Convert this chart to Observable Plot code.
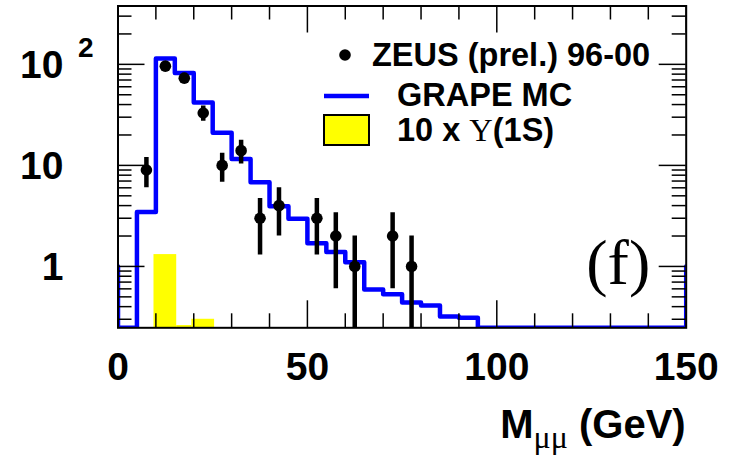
<!DOCTYPE html>
<html>
<head>
<meta charset="utf-8">
<script src="https://cdn.jsdelivr.net/npm/d3@7"></script>
<script src="https://cdn.jsdelivr.net/npm/@observablehq/plot@0.6"></script>
<style>
  html, body { margin: 0; padding: 0; background: #fff; }
  #chart svg { display: block; }
</style>
</head>
<body>
<div id="chart"></div>
<script>
// ZEUS (prel.) 96-00 data: dimuon mass bin centres (GeV), event counts, errors
const dataMass   = [7.5, 12.5, 17.5, 22.5, 27.5, 32.5, 37.5, 42.5, 52.5, 57.5, 62.5, 72.5, 77.5];
const dataCounts = [9, 96, 73, 33, 10, 14, 3, 4, 3, 2, 1, 2, 1];
const dataErrors = [3, 9.8, 8.5, 5.7, 3.2, 3.7, 1.7, 2, 1.7, 1.4, 1, 1.4, 1];

// GRAPE MC histogram: 5 GeV bins starting at these low edges (0 = empty bin)
const mcLowEdges = [0, 5, 10, 15, 20, 25, 30, 35, 40, 45, 50, 55, 60, 65, 70, 75, 80, 85, 90];
const mcValues   = [0, 3.45, 114, 82, 42, 21, 11.6, 6.8, 3.95, 2.97, 1.7, 1.39, 1.1, 0.59, 0.53, 0.44, 0.41, 0.32, 0.31];
const mcBinWidth = 5;
const mcEdgeLevel = 1;   // level of the histogram's outer edges at the axis limits

// 10 x Upsilon(1S) contribution
const upsLow  = [9.5, 15.5, 19.5];
const upsHigh = [15.5, 19.5, 25.5];
const upsVals = [1.31, 0.26, 0.30];

// Axes
const xRange = [0, 150];
const yRange = [0.247, 378];
const xMajor = [0, 50, 100, 150];
const xMinor = [10, 20, 30, 40, 60, 70, 80, 90, 110, 120, 130, 140];
const yMajor = [1, 10, 100];
const yMinor = [0.3, 0.4, 0.5, 0.6, 0.7, 0.8, 0.9, 2, 3, 4, 5, 6, 7, 8, 9,
                20, 30, 40, 50, 60, 70, 80, 90, 200, 300];
const yLabels = ["1", "10", "10"];
const yExponent = {100: "2"};

// Layout
const W = 740, H = 455;
const mL = 117.5, mR = 54.3, mT = 5.5, mB = 127.7;
const innerW = W - mL - mR, innerH = H - mT - mB;
const minorLen = 14, majorLen = 27;
const sans = "'Liberation Sans', Arial, Helvetica, sans-serif";
const serif = "'Liberation Serif', 'Times New Roman', serif";

const points = dataMass.map((m, i) => ({m, v: dataCounts[i], e: dataErrors[i]}));
const ups = upsLow.map((lo, i) => ({lo, hi: upsHigh[i], v: upsVals[i]}));

// Outline path of the MC histogram; empty bins sit on the frame floor
const floor = yRange[0];
const mcPath = [{x: xRange[0], y: mcEdgeLevel}];
mcLowEdges.forEach((lo, i) => {
  const v = mcValues[i] > 0 ? mcValues[i] : floor;
  mcPath.push({x: lo, y: v}, {x: lo + mcBinWidth, y: v});
});
const lastEdge = mcLowEdges[mcLowEdges.length - 1] + mcBinWidth;
mcPath.push({x: lastEdge, y: floor}, {x: xRange[1], y: floor}, {x: xRange[1], y: mcEdgeLevel});

const chart = Plot.plot({
  width: W, height: H,
  marginLeft: mL, marginRight: mR, marginTop: mT, marginBottom: mB,
  x: {domain: xRange, axis: null},
  y: {type: "log", domain: yRange, axis: null},
  style: {fontFamily: sans, background: "#fff", color: "#000", overflow: "visible"},
  marks: [
    // Upsilon(1S) bars
    Plot.rect(ups, {x1: "lo", x2: "hi", y1: () => floor, y2: "v", fill: "#ffff00"}),
    // GRAPE MC outline
    Plot.line(mcPath, {x: "x", y: "y", stroke: "#0000ff", strokeWidth: 4.5, clip: true}),
    // data error bars and markers
    Plot.ruleX(points, {x: "m", y1: d => Math.max(d.v - d.e, floor), y2: d => d.v + d.e,
                        stroke: "#000", strokeWidth: 4.5, clip: true}),
    Plot.dot(points, {x: "m", y: "v", r: 5.8, fill: "#000", stroke: null}),
    // tick marks on all four sides, pointing inward
    Plot.tickX(xMinor, {x: d => d, insetTop: innerH - minorLen, stroke: "#000", strokeWidth: 1.5}),
    Plot.tickX(xMajor, {x: d => d, insetTop: innerH - majorLen, stroke: "#000", strokeWidth: 1.5}),
    Plot.tickX(xMinor, {x: d => d, insetBottom: innerH - minorLen, stroke: "#000", strokeWidth: 1.5}),
    Plot.tickX(xMajor, {x: d => d, insetBottom: innerH - majorLen, stroke: "#000", strokeWidth: 1.5}),
    Plot.tickY(yMinor, {y: d => d, insetRight: innerW - minorLen, stroke: "#000", strokeWidth: 1.5}),
    Plot.tickY(yMajor, {y: d => d, insetRight: innerW - majorLen, stroke: "#000", strokeWidth: 1.5}),
    Plot.tickY(yMinor, {y: d => d, insetLeft: innerW - minorLen, stroke: "#000", strokeWidth: 1.5}),
    Plot.tickY(yMajor, {y: d => d, insetLeft: innerW - majorLen, stroke: "#000", strokeWidth: 1.5}),
    Plot.frame({stroke: "#000", strokeWidth: 2}),
    // tick labels
    Plot.text(xMajor, {x: d => d, frameAnchor: "bottom", dy: 52, text: d => String(d),
                       fontSize: 39, fontWeight: "bold", fill: "#000"}),
    Plot.text(yMajor, {y: d => d, frameAnchor: "left", dx: -54.5, dy: 1, textAnchor: "end",
                       text: (d, i) => yLabels[i], fontSize: 39, fontWeight: "bold", fill: "#000"}),
    Plot.text(yMajor.filter(d => yExponent[d]), {y: d => d, frameAnchor: "left", dx: -40, dy: -16,
                       textAnchor: "start", text: d => yExponent[d], fontSize: 28, fontWeight: "bold", fill: "#000"}),
    // panel tag
    Plot.text(["(f)"], {frameAnchor: "bottom-right", dx: -36, dy: -44, textAnchor: "end",
                        lineAnchor: "bottom", fontFamily: serif, fontSize: 64, fill: "#000"})
  ]
});

const svg = d3.select(chart);

// axis title: M_μμ (GeV)
const title = svg.append("text")
  .attr("x", mL + innerW).attr("y", 438)
  .attr("text-anchor", "end")
  .attr("font-family", sans).attr("font-size", 40).attr("font-weight", "bold").attr("fill", "#000");
title.append("tspan").text("M");
title.append("tspan").attr("dy", 10).attr("font-size", 32).attr("font-weight", "normal")
  .attr("font-family", serif).text("μμ");
title.append("tspan").attr("dy", -10).text(" (GeV)");

// legend
const legendSize = 32.5;
const lg = svg.append("g").attr("font-family", sans).attr("font-weight", "bold")
  .attr("fill", "#000").attr("text-anchor", "start");
lg.append("circle").attr("cx", 345).attr("cy", 55).attr("r", 5.8).attr("fill", "#000");
lg.append("text").attr("x", 372).attr("y", 55).attr("dy", "0.35em").attr("font-size", legendSize)
  .attr("text-anchor", "start").text("ZEUS (prel.) 96-00");
lg.append("line").attr("x1", 324).attr("x2", 369).attr("y1", 96).attr("y2", 96)
  .attr("stroke", "#0000ff").attr("stroke-width", 4.5);
lg.append("text").attr("x", 397).attr("y", 94.5).attr("dy", "0.35em").attr("font-size", legendSize)
  .attr("text-anchor", "start").text("GRAPE MC");
lg.append("rect").attr("x", 324).attr("y", 115).attr("width", 45).attr("height", 30)
  .attr("fill", "#ffff00").attr("stroke", "#000").attr("stroke-width", 2);
const ul = lg.append("text").attr("x", 397).attr("y", 129.5).attr("dy", "0.35em").attr("font-size", legendSize)
  .attr("text-anchor", "start");
ul.append("tspan").text("10 x ");
ul.append("tspan").attr("font-family", serif).attr("font-weight", "normal").text("Υ");
ul.append("tspan").text("(1S)");

document.getElementById("chart").append(chart);
</script>
</body>
</html>
